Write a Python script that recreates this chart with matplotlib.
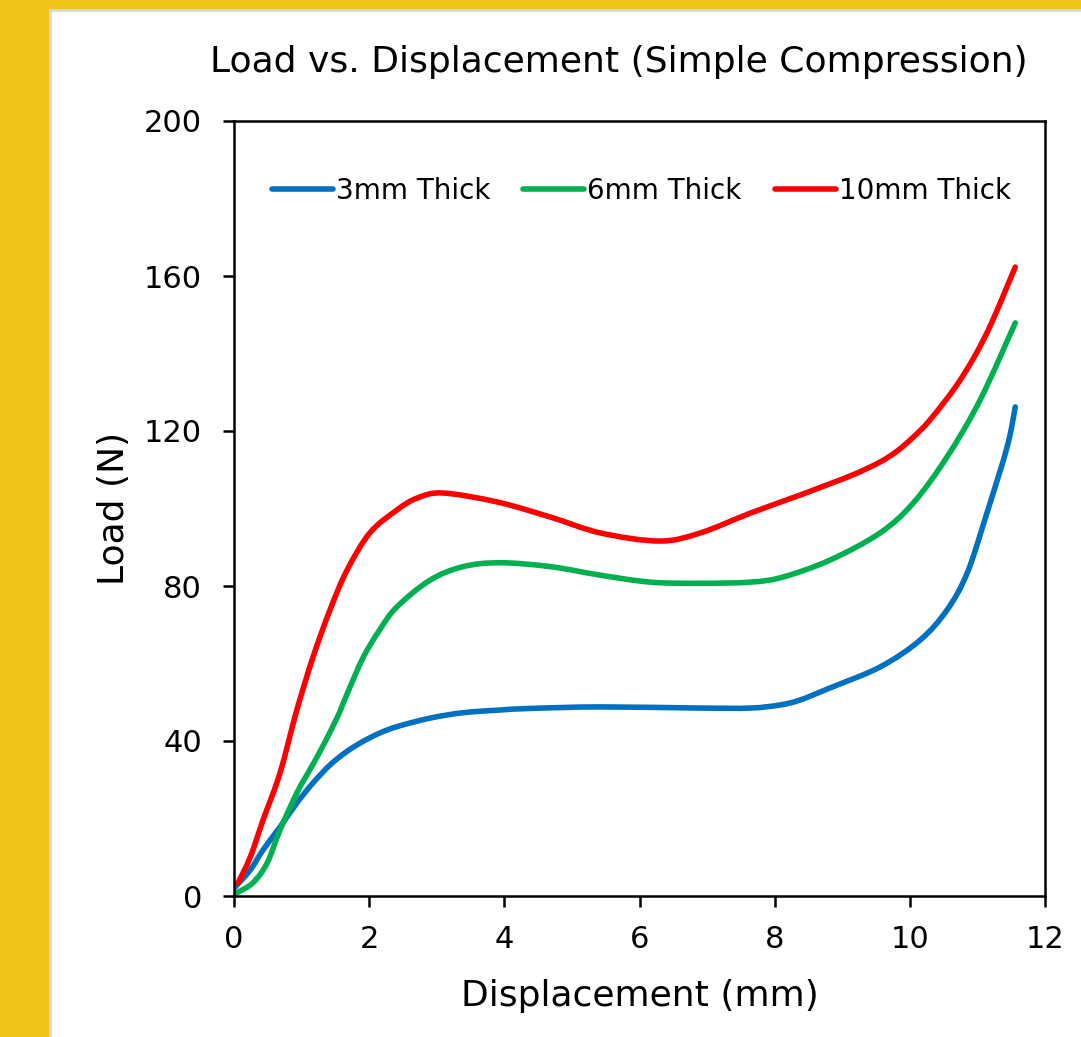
import matplotlib.pyplot as plt
from matplotlib.patches import Rectangle, PathPatch
from matplotlib.path import Path
from matplotlib.lines import Line2D

# displacement (mm) / load (N)
disp_3mm = [0.0, 0.24, 0.43, 0.68, 0.93, 1.17, 1.42, 1.67, 1.91, 2.15, 2.41, 2.9, 3.39, 3.94,
            4.38, 5.42, 6.9, 7.64, 8.08, 8.38, 8.82, 9.56, 10.15, 10.55, 10.85, 11.14, 11.44, 11.56]
load_3mm = [2.0, 6.7, 11.9, 17.8, 24.0, 29.2, 33.8, 37.3, 39.9, 42.0, 43.7, 45.9, 47.3, 48.0,
            48.4, 48.8, 48.5, 48.5, 49.3, 50.6, 53.7, 59.1, 66.0, 73.8, 83.4, 98.8, 115.9, 126.2]

disp_6mm = [0.04, 0.28, 0.49, 0.68, 0.93, 1.12, 1.27, 1.52, 1.67, 1.91, 2.16, 2.41, 2.9, 3.39,
            3.94, 4.68, 5.42, 6.16, 6.9, 7.64, 8.12, 8.82, 9.56, 10.05, 10.55, 11.04, 11.56]
load_6mm = [0.8, 3.4, 8.5, 17.0, 26.6, 32.5, 37.2, 45.8, 52.0, 61.5, 68.8, 74.6, 81.5, 85.0,
            86.0, 85.0, 82.8, 81.0, 80.7, 81.0, 82.3, 86.7, 93.7, 101.4, 113.3, 128.0, 147.9]

disp_10mm = [0.06, 0.24, 0.43, 0.68, 0.93, 1.17, 1.42, 1.67, 2.01, 2.41, 2.71, 3.09, 3.89,
             4.68, 5.42, 6.3, 6.9, 7.64, 8.38, 8.82, 9.2, 9.56, 9.81, 10.05, 10.3, 10.74,
             11.14, 11.56]
load_10mm = [3.4, 10.0, 19.6, 31.7, 48.0, 61.7, 73.8, 84.0, 93.7, 99.6, 102.7, 104.0, 101.7,
             97.8, 93.7, 91.6, 93.7, 98.8, 103.5, 106.4, 109.0, 112.0, 114.8, 118.4, 122.9,
             133.0, 145.3, 162.3]

series = [
    (disp_3mm, load_3mm, "3mm Thick", "#0070C0"),
    (disp_6mm, load_6mm, "6mm Thick", "#00B050"),
    (disp_10mm, load_10mm, "10mm Thick", "#FF0000"),
]


def smooth_path(xs, ys):
    # Excel-style smoothed line: cubic Bezier segments through the points
    pts = list(zip(xs, ys))
    verts = [pts[0]]
    codes = [Path.MOVETO]
    n = len(pts)
    for i in range(n - 1):
        p0 = pts[max(i - 1, 0)]
        p1 = pts[i]
        p2 = pts[i + 1]
        p3 = pts[min(i + 2, n - 1)]
        c1 = (p1[0] + (p2[0] - p0[0]) / 6, p1[1] + (p2[1] - p0[1]) / 6)
        c2 = (p2[0] - (p3[0] - p1[0]) / 6, p2[1] - (p3[1] - p1[1]) / 6)
        verts += [c1, c2, p2]
        codes += [Path.CURVE4] * 3
    return Path(verts, codes)


fig = plt.figure(figsize=(10.81, 10.37), dpi=100, facecolor="#F2C318")
# white slide panel behind the chart
fig.patches.append(Rectangle((50 / 1081, -0.01), 1.0, 1.01 - 10 / 1037, transform=fig.transFigure,
                             facecolor="white", edgecolor="#D9D9D9", linewidth=2, zorder=-5))

ax = fig.add_axes([234 / 1081, 1 - 896 / 1037, 811 / 1081, 775 / 1037])
ax.set_facecolor("none")
handles = []
for x, y, label, color in series:
    ax.add_patch(PathPatch(smooth_path(x, y), facecolor="none", edgecolor=color,
                           linewidth=4, capstyle="round", joinstyle="round"))
    handles.append(Line2D([], [], color=color, linewidth=4, solid_capstyle="round", label=label))

ax.set_xlim(0, 12)
ax.set_ylim(0, 200)
ax.set_xticks(range(0, 13, 2))
ax.set_yticks(range(0, 201, 40))
ax.tick_params(direction="out", length=8, width=1.8, labelsize=22)
ax.tick_params(axis="y", pad=15)
ax.tick_params(axis="x", pad=13)
for s in ax.spines.values():
    s.set_linewidth(1.8)

ax.set_xlabel("Displacement (mm)", fontsize=26, labelpad=18)
ax.set_ylabel("Load (N)", fontsize=26, labelpad=9)
fig.text(619 / 1081, 1 - 62 / 1037, "Load vs. Displacement (Simple Compression)",
         fontsize=26, ha="center", va="center")

ax.legend(handles=handles, loc="upper center", bbox_to_anchor=(0.502, 0.96), ncol=3,
          frameon=False, fontsize=20, handlelength=2.2, handletextpad=0.1, columnspacing=1.2)

fig.savefig("out.png", dpi=100, facecolor=fig.get_facecolor())
